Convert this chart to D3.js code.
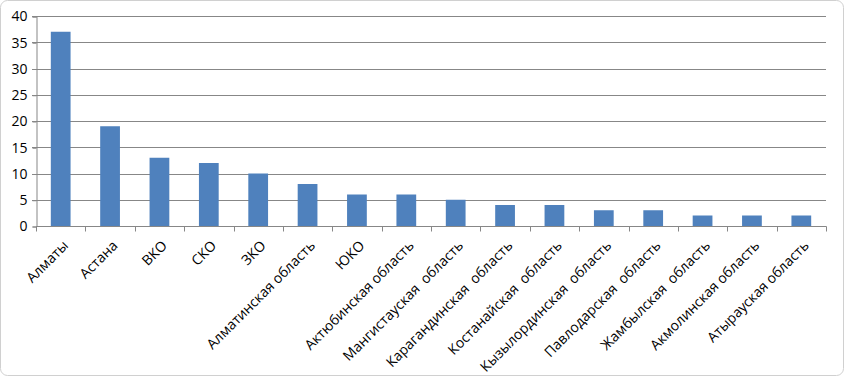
<!DOCTYPE html>
<html>
<head>
<meta charset="utf-8">
<script src="https://cdn.jsdelivr.net/npm/d3@7"></script>
<style>
  body { margin: 0; background: #fff; }
  text { font-family: "Open Sans", "Liberation Sans", sans-serif; }
</style>
</head>
<body>
<svg id="chart"></svg>
<script>
// данные
var categories = ["Алматы", "Астана", "ВКО", "СКО", "ЗКО", "Алматинская область", "ЮКО",
  "Актюбинская область", "Мангистауская  область", "Карагандинская  область",
  "Костанайская  область", "Кызылординская  область", "Павлодарская  область",
  "Жамбылская  область", "Акмолинская область", "Атырауская область"];
var values = [37, 19, 13, 12, 10, 8, 6, 6, 5, 4, 4, 3, 3, 2, 2, 2];
var yTicks = [0, 5, 10, 15, 20, 25, 30, 35, 40];

var svgWidth = 844, svgHeight = 376;
var plotLeft = 36, plotRight = 826, plotTop = 16, plotBottom = 226;

var svg = d3.select("#chart")
  .attr("width", svgWidth)
  .attr("height", svgHeight);

// рамка
svg.append("rect")
  .attr("x", 0.5).attr("y", 0.5)
  .attr("width", svgWidth - 1).attr("height", svgHeight - 1)
  .attr("rx", 7)
  .attr("fill", "#fff")
  .attr("stroke", "#d0d0d0");

var xScale = d3.scaleBand()
  .domain(categories)
  .range([plotLeft, plotRight])
  .paddingInner(0.6)
  .paddingOuter(0.3);

var xOuter = d3.scaleBand()
  .domain(categories)
  .range([plotLeft, plotRight]);

var yScale = d3.scaleLinear()
  .domain([0, 40])
  .range([plotBottom, plotTop]);

// сетка
svg.append("g")
  .selectAll("line")
  .data(yTicks.slice(1))
  .enter().append("line")
  .attr("x1", plotLeft - 4).attr("x2", plotRight)
  .attr("y1", function(d) { return Math.round(yScale(d)) + 0.5; })
  .attr("y2", function(d) { return Math.round(yScale(d)) + 0.5; })
  .attr("stroke", "#878787");

// ось Y
var yAxis = d3.axisLeft(yScale).tickValues(yTicks).tickSize(4).tickPadding(5);
var gy = svg.append("g")
  .attr("transform", "translate(" + (plotLeft + 0.5) + ",0.5)")
  .call(yAxis);
gy.select(".domain").attr("stroke", "#878787");
gy.selectAll(".tick line").attr("stroke", "#878787");
gy.selectAll("text")
  .attr("font-size", "14px")
  .attr("font-family", "'Open Sans', sans-serif")
  .attr("fill", "#000");

// столбцы
svg.append("g")
  .selectAll("rect")
  .data(values)
  .enter().append("rect")
  .attr("x", function(d, i) { return xScale(categories[i]); })
  .attr("y", function(d) { return yScale(d); })
  .attr("width", xScale.bandwidth())
  .attr("height", function(d) { return yScale(0) - yScale(d); })
  .attr("fill", "#4f81bd");

// ось X
var gx = svg.append("g")
  .attr("transform", "translate(0," + (plotBottom + 0.5) + ")");
gx.append("line")
  .attr("x1", plotLeft).attr("x2", plotRight + 0.5)
  .attr("stroke", "#878787");
gx.selectAll(".tk")
  .data(categories.concat(["end"]))
  .enter().append("line")
  .attr("class", "tk")
  .attr("x1", function(d, i) { return Math.round(plotLeft + i * xOuter.bandwidth()) + 0.5; })
  .attr("x2", function(d, i) { return Math.round(plotLeft + i * xOuter.bandwidth()) + 0.5; })
  .attr("y1", 0).attr("y2", 5)
  .attr("stroke", "#878787");

svg.append("g")
  .selectAll("text")
  .data(categories)
  .enter().append("text")
  .attr("transform", function(d) {
    var cx = xOuter(d) + xOuter.bandwidth() / 2;
    return "translate(" + (cx + 5) + "," + 243 + ") rotate(-45)";
  })
  .attr("text-anchor", "end")
  .attr("dy", "0.35em")
  .attr("font-size", "14px")
  .attr("fill", "#000")
  .style("white-space", "pre")
  .text(function(d) { return d; });
</script>
</body>
</html>
